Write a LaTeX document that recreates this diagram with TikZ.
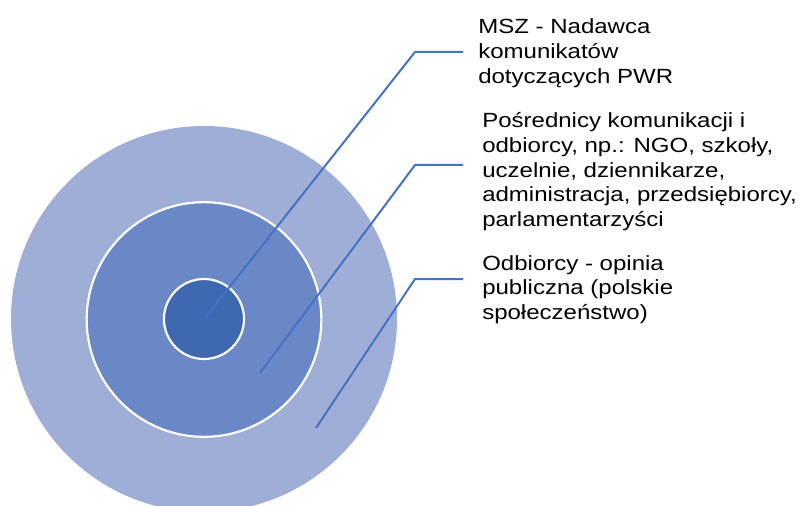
\documentclass[tikz,border=0pt]{standalone}
\usepackage{fontspec}
\setmainfont{Liberation Sans}[FakeStretch=1.17]
\definecolor{ringout}{HTML}{9EAED7}
\definecolor{ringmid}{HTML}{6B88C6}
\definecolor{ringin}{HTML}{3E68B0}
\definecolor{leader}{HTML}{4472C4}
\newcommand{\lbltext}[1]{\parbox[t]{250pt}{\raggedright\fontsize{15.4pt}{18.45pt}\selectfont #1}}
\tikzset{
  ring/.style={circle, draw=white, line width=1.6pt, inner sep=0pt, minimum size=#1},
  leaderline/.style={draw=leader, line width=1.5pt},
  label/.style={anchor=base west, inner sep=0pt, text=black}
}
\begin{document}
\begin{tikzpicture}[x=0.75pt,y=-0.75pt]
\useasboundingbox (0,0) rectangle (800,506);
\clip (0,0) rectangle (800,506);
\node[ring=289.5pt, fill=ringout, draw=none] (outer) at (204,319) {};
\node[ring=176pt, fill=ringmid] (middle) at (204,319.5) {};
\node[ring=60pt, fill=ringin] (inner) at (204,319) {};
\coordinate (p1) at (205,318);
\coordinate (p2) at (260,373);
\coordinate (p3) at (316,428);
\coordinate (e1) at (415,52);
\coordinate (e2) at (415,165);
\coordinate (e3) at (415,279);
\coordinate (h1) at (463,52);
\coordinate (h2) at (463,165);
\coordinate (h3) at (463,279);
\draw[leaderline] (p1) -- (e1) -- (h1);
\draw[leaderline] (p2) -- (e2) -- (h2);
\draw[leaderline] (p3) -- (e3) -- (h3);
\node[label] (t1) at (478,34) {\lbltext{MSZ - Nadawca\\komunikatów\\dotyczących PWR}};
\node[label] (t2) at (482,128) {\lbltext{Pośrednicy komunikacji i\\odbiorcy, np.: NGO, szkoły,\\uczelnie, dziennikarze,\\administracja, przedsiębiorcy,\\parlamentarzyści}};
\node[label] (t3) at (482,270) {\lbltext{Odbiorcy - opinia\\publiczna (polskie\\społeczeństwo)}};
\end{tikzpicture}
\end{document}
